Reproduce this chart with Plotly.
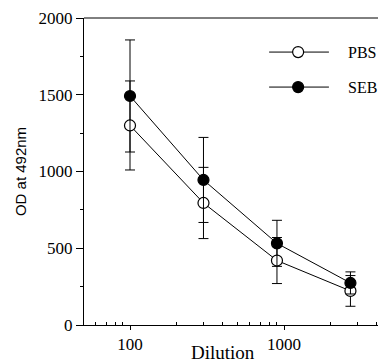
import plotly.graph_objects as go

dilution = [100, 300, 900, 2700]
pbs_mean = [1300, 795, 420, 222]
pbs_err = [290, 232, 150, 100]
seb_mean = [1492, 945, 532, 274]
seb_err = [365, 277, 150, 72]
series_names = ["PBS", "SEB"]
y_ticks = [0, 500, 1000, 1500, 2000]
x_ticks = [100, 1000]

serif = "Liberation Serif, Times New Roman, serif"
sans = "Liberation Sans, Arial, sans-serif"

fig = go.Figure()
for name, mean, err, fill in [(series_names[0], pbs_mean, pbs_err, "white"),
                              (series_names[1], seb_mean, seb_err, "black")]:
    fig.add_trace(go.Scatter(
        x=dilution, y=mean, name=name, mode="lines+markers",
        line=dict(color="black", width=1),
        marker=dict(symbol="circle", size=11, color=fill, line=dict(color="black", width=1.2)),
        error_y=dict(type="data", array=err, visible=True, color="black", thickness=1, width=5),
        showlegend=False,
    ))

# manual legend
leg_y = [0.889, 0.775]
fills = ["white", "black"]
shapes = []
annotations = []
for name, ly, f in zip(series_names, leg_y, fills):
    shapes.append(dict(type="line", xref="paper", yref="paper", x0=0.613, x1=0.811, y0=ly, y1=ly,
                       line=dict(color="black", width=1)))
    shapes.append(dict(type="circle", xref="paper", yref="paper", xsizemode="pixel", ysizemode="pixel",
                       xanchor=0.709, yanchor=ly, x0=-5.5, x1=5.5, y0=-5.5, y1=5.5,
                       fillcolor=f, line=dict(color="black", width=1.2)))
    annotations.append(dict(text=name, xref="paper", yref="paper", x=0.868, y=ly, xanchor="left",
                            yanchor="middle", showarrow=False, font=dict(family=serif, size=16, color="black")))

# top border
shapes.append(dict(type="line", xref="paper", yref="paper", x0=0, x1=1, y0=1, y1=1,
                   line=dict(color="black", width=1)))

annotations.append(dict(text="Dilution", xref="paper", yref="paper", x=0.46, y=0, yshift=-15,
                        xanchor="center", yanchor="top", showarrow=False,
                        font=dict(family=serif, size=19, color="black")))

minor_x = [m * 10 ** e for e in [1, 2, 3] for m in range(2, 10) if 50 <= m * 10 ** e <= 4600]

# page body adds an 8px offset; figure size/margins compensate
fig.update_layout(
    width=378, height=355,
    margin=dict(l=76, r=0, t=10, b=38, pad=0),
    paper_bgcolor="white", plot_bgcolor="white",
    shapes=shapes, annotations=annotations,
    xaxis=dict(type="log", range=[1.7013, 3.6623], tickvals=x_ticks, ticktext=[str(v) for v in x_ticks],
               showline=True, linecolor="black", linewidth=1, ticks="outside", ticklen=4,
               tickcolor="black", showgrid=False, zeroline=False,
               tickfont=dict(family=serif, size=17, color="black"),
               minor=dict(tickvals=minor_x, ticks="inside", ticklen=3, tickcolor="black", showgrid=False)),
    yaxis=dict(range=[0, 2000], tickvals=y_ticks, showline=True, linecolor="black", linewidth=1,
               ticks="outside", ticklen=7, tickcolor="black", showgrid=False, zeroline=False,
               tickfont=dict(family=serif, size=17, color="black"),
               minor=dict(dtick=250, ticks="outside", ticklen=3, tickcolor="black", showgrid=False),
               title=dict(text="OD at 492nm", font=dict(family=sans, size=15, color="black"), standoff=8)),
)

fig.write_html("out.html")
